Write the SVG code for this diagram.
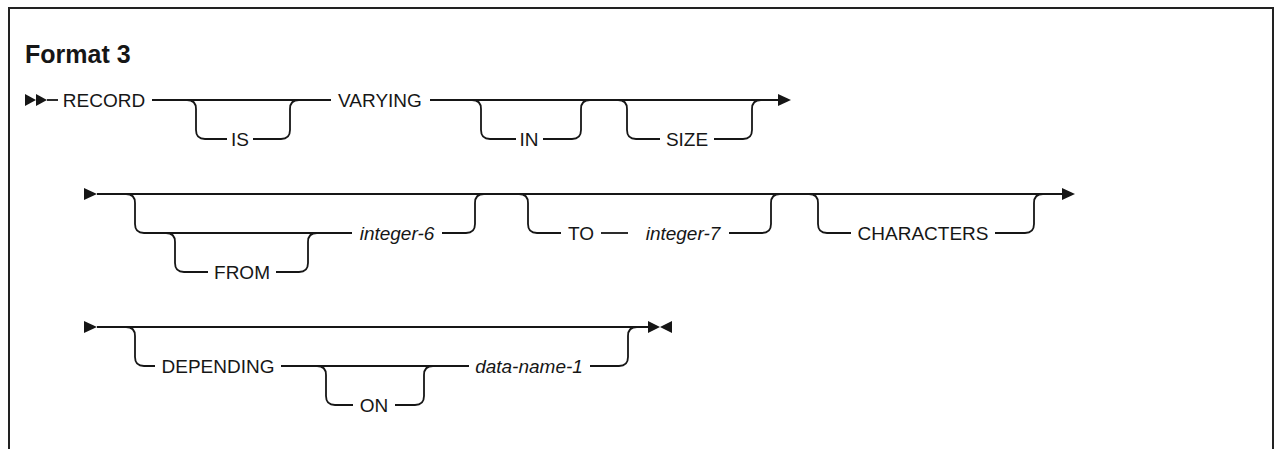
<svg xmlns="http://www.w3.org/2000/svg" width="1275" height="449" viewBox="0 0 1275 449">
<style>
.frame{fill:none;stroke:#222;stroke-width:2}
.ln{fill:none;stroke:#161616;stroke-width:1.8}
.ah{fill:#161616;stroke:none}
.kw{font-family:"Liberation Sans",Arial,sans-serif;font-size:19px;fill:#161616;text-anchor:middle}
.var{font-family:"Liberation Sans",Arial,sans-serif;font-size:19px;font-style:italic;fill:#161616;text-anchor:middle}
.title{font-family:"Liberation Sans",Arial,sans-serif;font-size:25px;font-weight:bold;fill:#161616}
</style>
<rect x="0" y="0" width="1275" height="449" fill="#ffffff"/>
<path class="frame" d="M9,449 V8 H1273 V449"/>
<text class="title" x="25" y="63">Format 3</text>

<g id="connectors">
  <!-- row 1 -->
  <polygon class="ah" points="25,94 36,100 25,106"/>
  <polygon class="ah" points="36,94 47,100 36,106"/>
  <path class="ln" d="M47,100 H58"/>
  <path class="ln" d="M152,100 H331"/>
  <path class="ln" d="M187,100 Q196,100 196,109 V130 Q196,139 205,139 H227"/>
  <path class="ln" d="M253,139 H281 Q290,139 290,130 V109 Q290,100 299,100"/>
  <path class="ln" d="M430,100 H779"/>
  <polygon class="ah" points="778,94 791,100 778,106"/>
  <path class="ln" d="M472,100 Q481,100 481,109 V130 Q481,139 490,139 H516"/>
  <path class="ln" d="M543,139 H572 Q581,139 581,130 V109 Q581,100 590,100"/>
  <path class="ln" d="M618,100 Q627,100 627,109 V130 Q627,139 636,139 H660"/>
  <path class="ln" d="M714,139 H743 Q752,139 752,130 V109 Q752,100 761,100"/>
  <!-- row 2 -->
  <polygon class="ah" points="84,188 97,194 84,200"/>
  <path class="ln" d="M97,194 H1063"/>
  <polygon class="ah" points="1062,188 1075,194 1062,200"/>
  <path class="ln" d="M126,194 Q135,194 135,203 V224 Q135,233 144,233 H352"/>
  <path class="ln" d="M166,233 Q175,233 175,242 V263 Q175,272 184,272 H208"/>
  <path class="ln" d="M276,272 H299 Q308,272 308,263 V242 Q308,233 317,233"/>
  <path class="ln" d="M442,233 H466 Q475,233 475,224 V203 Q475,194 484,194"/>
  <path class="ln" d="M519,194 Q528,194 528,203 V224 Q528,233 537,233 H561"/>
  <path class="ln" d="M601,233 H628"/>
  <path class="ln" d="M729,233 H762 Q771,233 771,224 V203 Q771,194 780,194"/>
  <path class="ln" d="M809,194 Q818,194 818,203 V224 Q818,233 827,233 H851"/>
  <path class="ln" d="M995,233 H1025 Q1034,233 1034,224 V203 Q1034,194 1043,194"/>
  <!-- row 3 -->
  <polygon class="ah" points="84,321 97,327 84,333"/>
  <path class="ln" d="M97,327 H649"/>
  <path class="ln" d="M126,327 Q135,327 135,336 V357 Q135,366 144,366 H155"/>
  <path class="ln" d="M281,366 H469"/>
  <path class="ln" d="M317,366 Q326,366 326,375 V396 Q326,405 335,405 H353"/>
  <path class="ln" d="M395,405 H415 Q424,405 424,396 V375 Q424,366 433,366"/>
  <path class="ln" d="M590,366 H619 Q628,366 628,357 V336 Q628,327 637,327"/>
  <polygon class="ah" points="648,321 660,327 648,333"/>
  <polygon class="ah" points="672,321 660,327 672,333"/>
</g>

<g id="n-record"><text class="kw" x="104" y="107">RECORD</text></g>
<g id="n-is"><text class="kw" x="240" y="146">IS</text></g>
<g id="n-varying"><text class="kw" x="380" y="107">VARYING</text></g>
<g id="n-in"><text class="kw" x="529" y="146">IN</text></g>
<g id="n-size"><text class="kw" x="687" y="146">SIZE</text></g>
<g id="n-from"><text class="kw" x="242" y="279">FROM</text></g>
<g id="n-integer6"><text class="var" x="397" y="240">integer-6</text></g>
<g id="n-to"><text class="kw" x="581" y="240">TO</text></g>
<g id="n-integer7"><text class="var" x="683" y="240">integer-7</text></g>
<g id="n-characters"><text class="kw" x="923" y="240">CHARACTERS</text></g>
<g id="n-depending"><text class="kw" x="218" y="373">DEPENDING</text></g>
<g id="n-on"><text class="kw" x="374" y="412">ON</text></g>
<g id="n-dataname1"><text class="var" x="529" y="373">data-name-1</text></g>
</svg>
